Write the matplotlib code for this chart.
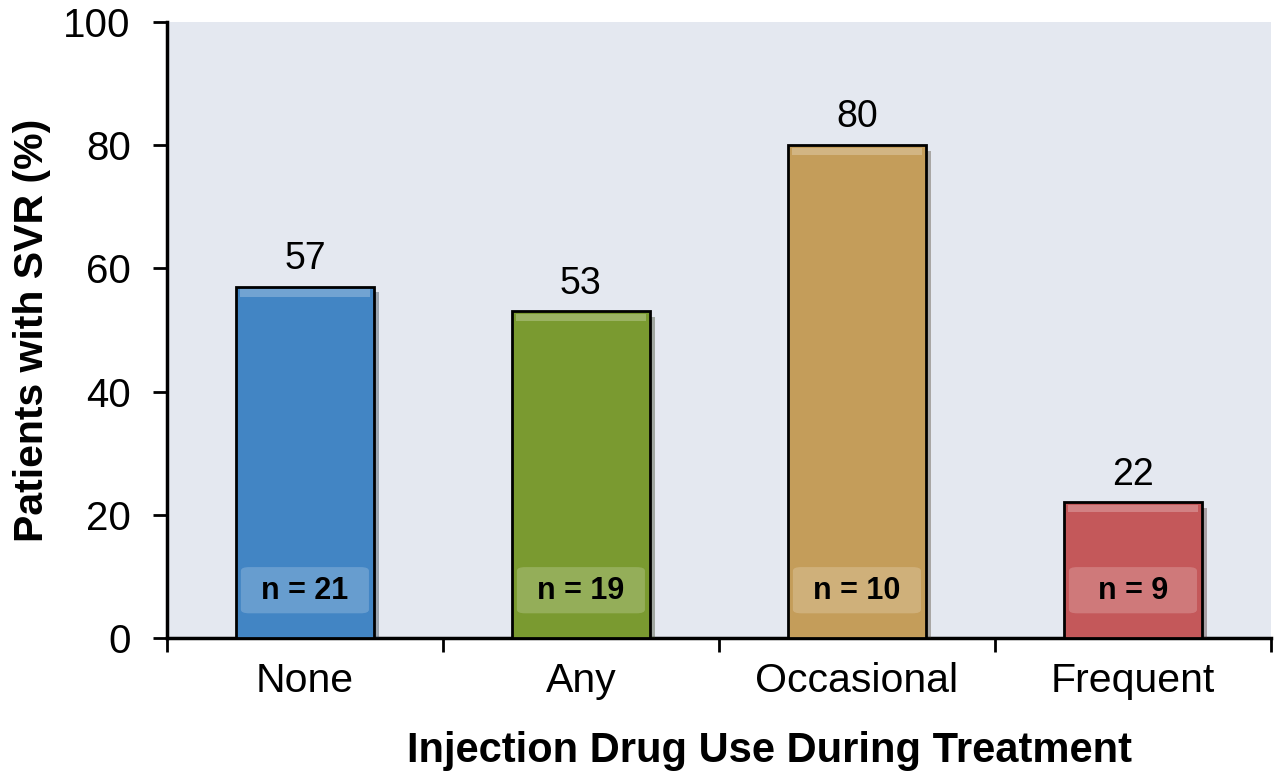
import matplotlib
matplotlib.use('Agg')
from matplotlib import pyplot as plt
from matplotlib.patches import FancyBboxPatch
import matplotlib.patheffects as pe
import numpy as np

# data
categories = ['None', 'Any', 'Occasional', 'Frequent']
svr = [57, 53, 80, 22]
n_labels = ['n = 21', 'n = 19', 'n = 10', 'n = 9']
colors = ['#4285C4', '#7A9A30', '#C49D5A', '#C4585A']

plt.rcParams['font.family'] = ['Liberation Sans', 'DejaVu Sans']

fig = plt.figure(figsize=(12.74, 7.73), dpi=100)
ax = fig.add_axes([0.131, 0.1747, 0.8666, 0.797])
ax.set_facecolor('#E4E8F0')

x = np.arange(len(categories))
bars = ax.bar(x, svr, width=0.5, color=colors, edgecolor='black', linewidth=2, zorder=3,
              path_effects=[pe.SimplePatchShadow(offset=(4, -4), alpha=0.35), pe.Normal()])

# lighter top bevel strip and n-label boxes
for xi, v, c, lab in zip(x, svr, colors, n_labels):
    ax.bar(xi, 1.2, bottom=v - 1.6, width=0.47, color='white', alpha=0.25, zorder=4, linewidth=0)
    box = FancyBboxPatch((xi - 0.232, 4.0), 0.464, 7.5,
                         boxstyle='round,pad=0,rounding_size=0.03',
                         facecolor='white', alpha=0.2, edgecolor='none', zorder=4,
                         mutation_aspect=20)
    ax.add_patch(box)
    ax.text(xi, 7.6, lab, ha='center', va='center', fontsize=22, fontweight='bold', zorder=5)
    ax.text(xi, v + 1.6, str(v), ha='center', va='bottom', fontsize=27, zorder=5)

ax.set_xlim(-0.5, 3.5)
ax.set_ylim(0, 100)
ax.set_yticks([0, 20, 40, 60, 80, 100])
ax.tick_params(axis='y', labelsize=29, length=10, width=2, direction='out', pad=16)

ax.set_xticks(x)
ax.set_xticklabels(categories, fontsize=29.5)
ax.tick_params(axis='x', which='major', length=0, pad=17)
ax.set_xticks([-0.5, 0.5, 1.5, 2.5, 3.5], minor=True)
ax.tick_params(axis='x', which='minor', length=10, width=2, direction='out')

for s in ['top', 'right']:
    ax.spines[s].set_visible(False)
ax.spines['left'].set_linewidth(2.5)
ax.spines['bottom'].set_linewidth(2.5)

ax.text(-0.1223, 0.5, 'Patients with SVR (%)', transform=ax.transAxes, rotation=90,
        ha='center', va='center', fontsize=29.5, fontweight='bold')
ax.text(0.546, -0.184, 'Injection Drug Use During Treatment', transform=ax.transAxes,
        ha='center', va='center', fontsize=30, fontweight='bold')

fig.savefig('out.png', dpi=100)
